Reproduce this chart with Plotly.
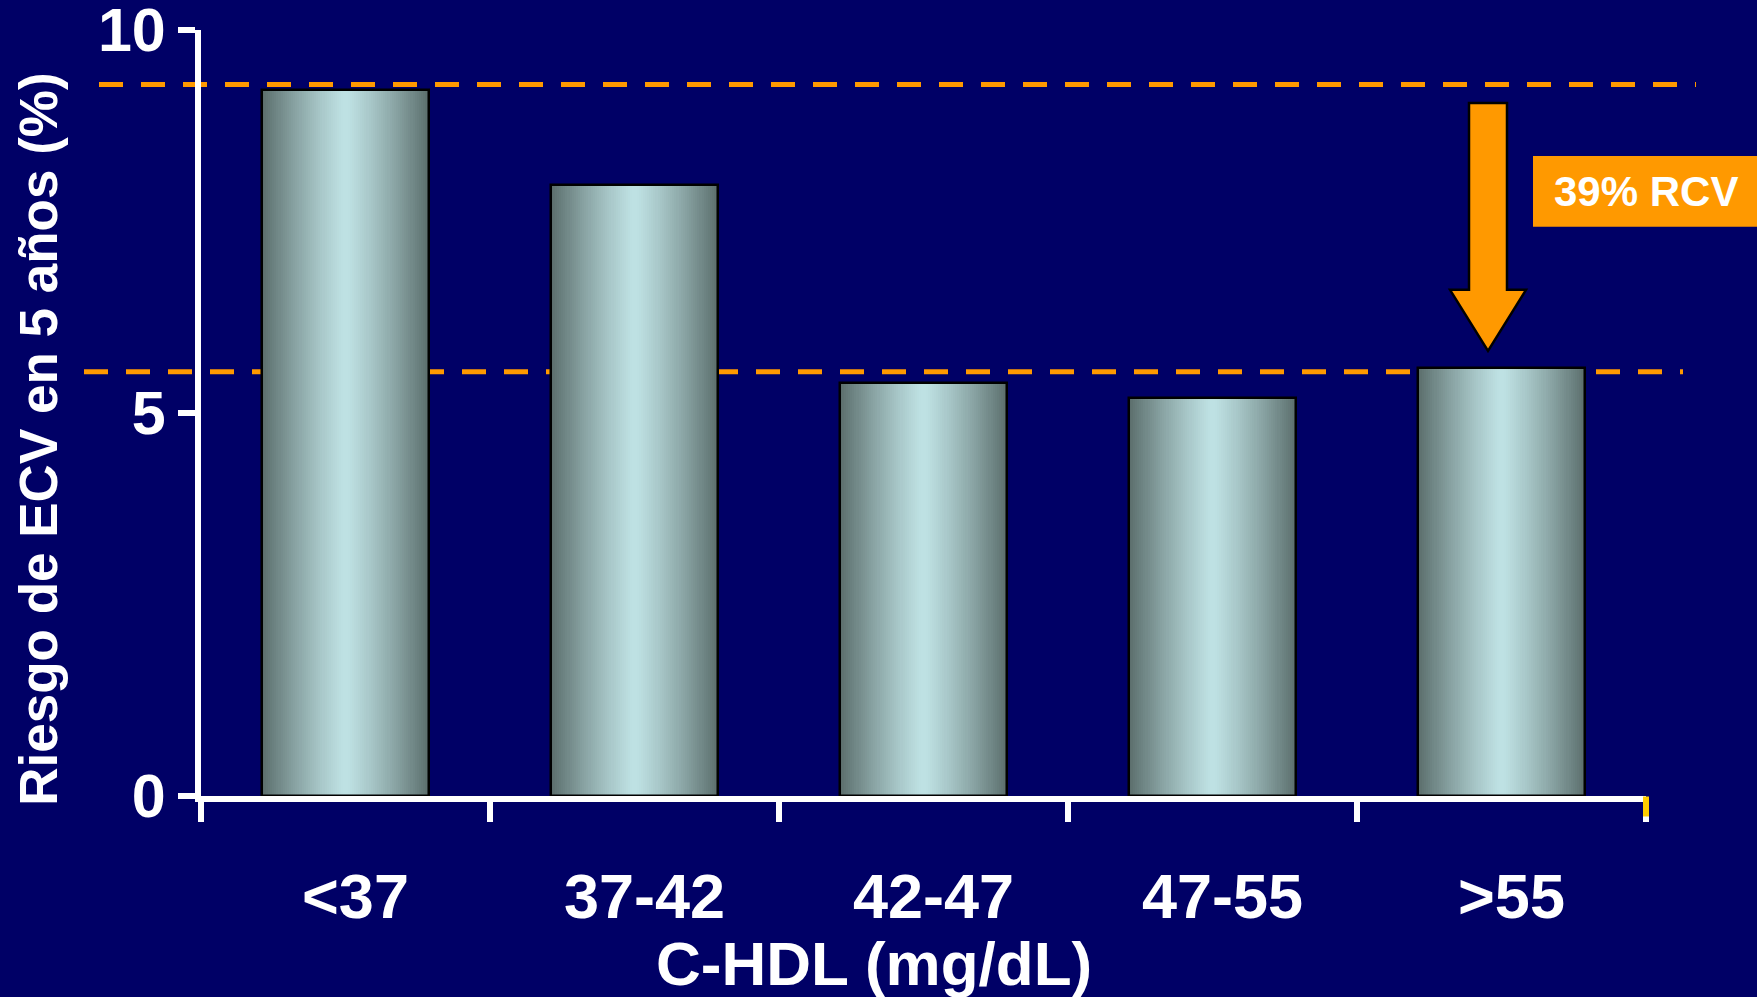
import plotly.graph_objects as go

# HDL cholesterol groups and 5-year CVD risk (%)
categories = ["<37", "37-42", "42-47", "47-55", ">55"]
risk = [9.22, 7.98, 5.39, 5.19, 5.59]
reference_levels = [9.29, 5.54]
y_ticks = [0, 5, 10]
y_title = "Riesgo de ECV en 5 años (%)"
x_title = "C-HDL (mg/dL)"
callout = "39% RCV"

BG = "#000066"
ORANGE = "#FF9900"
FONT = "Liberation Sans, Arial, sans-serif"

# plot area in pixels (used for placing the decorations in paper units)
W, H = 1757, 997
L, R, T, B = 201, 111, 30, 200.5
PW, PH = W - L - R, H - T - B


def px(xp):
    return (xp - L) / PW


def py(yp):
    return (H - B - yp) / PH


fig = go.Figure()

# cylinder-like shading: stacked overlay bars, dark at the edges, light in the middle
BAR_W = 0.58
edge = (0x5a, 0x6d, 0x6b)
centre = (0xbf, 0xe2, 0xe4)
N = 40
for k in range(N):
    frac = 1 - k / N
    d = (frac + (1 - (k + 1) / N)) / 2
    f = d ** 1.2
    col = tuple(round(c + (e - c) * f) for c, e in zip(centre, edge))
    fig.add_trace(go.Bar(
        x=categories, y=risk, width=BAR_W * frac,
        marker=dict(color="rgb(%d,%d,%d)" % col, line=dict(width=0)),
        hoverinfo="skip", showlegend=False,
    ))
# outline on top
fig.add_trace(go.Bar(
    x=categories, y=risk, width=BAR_W,
    marker=dict(color="rgba(0,0,0,0)", line=dict(color="black", width=2.5)),
    hoverinfo="skip", showlegend=False,
))

# dashed reference levels
for lvl, (xa, xb) in zip(reference_levels, [(99, 1696), (84, 1683)]):
    fig.add_shape(type="line", xref="paper", yref="y", x0=px(xa), x1=px(xb),
                  y0=lvl, y1=lvl, layer="below",
                  line=dict(color=ORANGE, width=5, dash="24px,18px"))

# down arrow between the two levels
ax_pts = [(1469, 103), (1507, 103), (1507, 290), (1526, 290), (1488, 351),
          (1450, 290), (1469, 290)]
path = "M " + " L ".join("%f,%f" % (px(a), py(b)) for a, b in ax_pts) + " Z"
fig.add_shape(type="path", xref="paper", yref="paper", path=path,
              fillcolor=ORANGE, line=dict(color="black", width=2.5))

# callout box
fig.add_shape(type="rect", xref="paper", yref="paper",
              x0=px(1533), x1=px(1770), y0=py(227), y1=py(156),
              fillcolor=ORANGE, line=dict(width=0))
fig.add_annotation(text=callout, xref="paper", yref="paper",
                   x=px(1646), y=py(192), xanchor="center", yanchor="middle",
                   showarrow=False,
                   font=dict(family=FONT, size=42, color="white", weight="bold"))

# last boundary tick drawn in yellow
fig.add_shape(type="line", xref="paper", yref="paper", x0=1, x1=1,
              y0=py(797), y1=py(817), line=dict(color="#FFCC00", width=6))

# axis titles
fig.add_annotation(text=y_title, xref="paper", yref="paper",
                   x=px(39), y=py(440), textangle=-90,
                   xanchor="center", yanchor="middle", showarrow=False,
                   font=dict(family=FONT, size=53, color="white", weight="bold"))
fig.add_annotation(text=x_title, xref="paper", yref="paper",
                   x=px(874), y=py(964), xanchor="center", yanchor="middle",
                   showarrow=False,
                   font=dict(family=FONT, size=62, color="white", weight="bold"))

fig.update_layout(
    width=W, height=H, autosize=False,
    margin=dict(l=L, r=R, t=T, b=B, pad=0, autoexpand=False),
    paper_bgcolor=BG, plot_bgcolor=BG,
    barmode="overlay", bargap=0,
    showlegend=False,
    font=dict(family=FONT, color="white"),
)
fig.update_xaxes(
    type="category", range=[-0.5, 4.5], tickson="boundaries",
    showline=True, linecolor="white", linewidth=6,
    ticks="outside", ticklen=20, tickwidth=6, tickcolor="white",
    showgrid=False, zeroline=False, automargin=False,
    tickfont=dict(family=FONT, size=63, color="white", weight="bold"),
    ticklabelstandoff=40, ticklabelshift=10,
)
fig.update_yaxes(
    range=[0, 10], tickvals=y_ticks,
    showline=True, linecolor="white", linewidth=6,
    ticks="outside", ticklen=17, tickwidth=6, tickcolor="white",
    showgrid=False, zeroline=False, ticklabeloverflow="allow", automargin=False,
    tickfont=dict(family=FONT, size=61, color="white", weight="bold"),
)

fig.write_html("out.html")
